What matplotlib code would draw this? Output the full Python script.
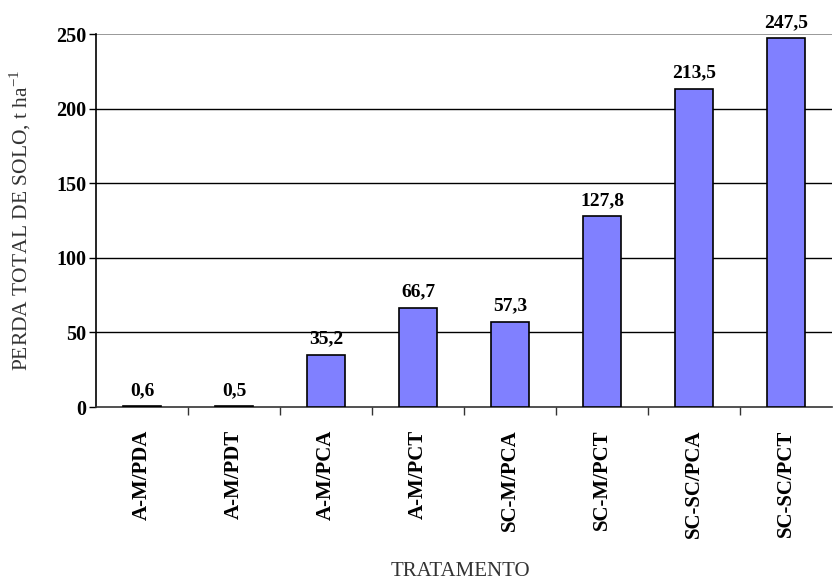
import matplotlib.pyplot as plt
import numpy as np

tratamentos = ['A-M/PDA', 'A-M/PDT', 'A-M/PCA', 'A-M/PCT',
               'SC-M/PCA', 'SC-M/PCT', 'SC-SC/PCA', 'SC-SC/PCT']
perda = [0.6, 0.5, 35.2, 66.7, 57.3, 127.8, 213.5, 247.5]
yticks = [0, 50, 100, 150, 200, 250]

plt.rcParams['font.family'] = 'Liberation Serif'

fig = plt.figure(figsize=(8.33, 5.79), dpi=100)
ax = fig.add_axes([0.1152, 0.297, 0.8836, 0.6442])

x = np.arange(len(tratamentos))
ax.bar(x, perda, width=0.42, color='#8080FF', edgecolor='black',
       linewidth=1.2, zorder=3)

for xi, v in zip(x, perda):
    ax.annotate(f'{v:.1f}'.replace('.', ','), (xi, v), xytext=(0, 5),
                textcoords='offset points', ha='center', va='bottom',
                fontsize=14, fontweight='bold')

ax.set_xlim(-0.5, len(tratamentos) - 0.5)
ax.set_ylim(0, 250)
ax.set_yticks(yticks)
ax.set_yticklabels([str(t) for t in yticks], fontsize=14.5, fontweight='bold')
for t in yticks[1:-1]:
    ax.axhline(t, color='black', linewidth=1, zorder=1)
ax.axhline(250, color='#888888', linewidth=1.2, zorder=1)

ax.set_xticks(x)
ax.set_xticklabels(tratamentos, rotation=90, fontsize=15, fontweight='bold')
ax.tick_params(axis='x', length=0, pad=16)
ax.set_xticks(np.arange(0.5, len(tratamentos) - 0.5), minor=True)
ax.tick_params(axis='x', which='minor', length=6, width=1, color='#333333')
ax.tick_params(axis='y', length=5, width=1, pad=2)

for s in ['top', 'right']:
    ax.spines[s].set_visible(False)
ax.spines['left'].set_linewidth(1.2)
ax.spines['bottom'].set_linewidth(1.2)
ax.spines['bottom'].set_color('#333333')

fig.text(20 / 833, 1 - 220 / 579, r'PERDA TOTAL DE SOLO, t ha$^{\mathregular{-1}}$',
         rotation=90, ha='center', va='center', fontsize=15.5, color='#333333')
fig.text(460 / 833, 1 - 571 / 579, 'TRATAMENTO', ha='center', va='center',
         fontsize=15, color='#333333')

fig.savefig('out.png', dpi=100)
